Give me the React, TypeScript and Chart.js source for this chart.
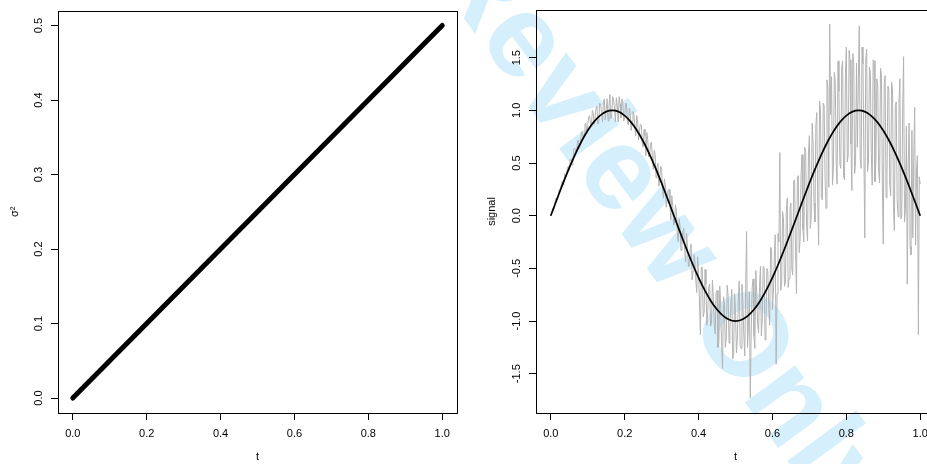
import React, { useEffect, useRef } from 'react';
import { Chart, registerables } from 'chart.js';
Chart.register(...registerables);

// ---- data ----
const T_TICKS = [0, 0.2, 0.4, 0.6, 0.8, 1.0];
const SIGMA_TICKS = [0, 0.1, 0.2, 0.3, 0.4, 0.5];
const SIGNAL_TICKS = [-1.5, -1.0, -0.5, 0, 0.5, 1.0, 1.5];

const SIGMA_T = [0, 0.1, 0.2, 0.3, 0.4, 0.5, 0.6, 0.7, 0.8, 0.9, 1.0];
const SIGMA2 = [0, 0.05, 0.1, 0.15, 0.2, 0.25, 0.3, 0.35, 0.4, 0.45, 0.5];

// true signal, read at t = 0, 1/60, ..., 1
const TRUE_SIGNAL = [
  0, 0.156, 0.309, 0.454, 0.588, 0.707, 0.809, 0.891, 0.951, 0.988,
  1.0, 0.988, 0.951, 0.891, 0.809, 0.707, 0.588, 0.454, 0.309, 0.156,
  0, -0.156, -0.309, -0.454, -0.588, -0.707, -0.809, -0.891, -0.951, -0.988,
  -1.0, -0.988, -0.951, -0.891, -0.809, -0.707, -0.588, -0.454, -0.309, -0.156,
  0, 0.156, 0.309, 0.454, 0.588, 0.707, 0.809, 0.891, 0.951, 0.988,
  1.0, 0.988, 0.951, 0.891, 0.809, 0.707, 0.588, 0.454, 0.309, 0.156,
  0,
];

// noisy observations, read at t = 0, 1/400, ..., 1
const NOISY_SIGNAL = [
  0.00, 0.03, 0.07, 0.05, 0.08, 0.15, 0.17, 0.15, 0.17, 0.25,
  0.24, 0.24, 0.32, 0.33, 0.29, 0.40, 0.39, 0.37, 0.46, 0.47,
  0.43, 0.53, 0.54, 0.48, 0.51, 0.63, 0.64, 0.61, 0.62, 0.71,
  0.72, 0.64, 0.67, 0.79, 0.80, 0.74, 0.77, 0.87, 0.88, 0.78,
  0.85, 0.94, 0.95, 0.88, 0.85, 1.00, 0.97, 0.87, 0.94, 1.02,
  1.04, 0.87, 0.90, 1.07, 1.05, 0.98, 0.89, 1.08, 1.11, 0.91,
  1.01, 1.11, 0.90, 1.04, 1.15, 0.92, 0.97, 1.13, 1.10, 1.02,
  0.89, 1.12, 1.05, 0.89, 1.13, 1.06, 0.93, 1.11, 1.07, 0.90,
  0.93, 1.07, 1.06, 0.89, 0.86, 1.02, 0.99, 0.81, 0.89, 0.99,
  0.96, 0.86, 0.76, 0.95, 0.90, 0.72, 0.80, 0.87, 0.86, 0.69,
  0.65, 0.82, 0.76, 0.57, 0.79, 0.72, 0.56, 0.57, 0.68, 0.70,
  0.55, 0.44, 0.62, 0.58, 0.36, 0.46, 0.50, 0.28, 0.36, 0.47,
  0.44, 0.24, 0.17, 0.35, 0.30, 0.08, 0.15, 0.24, 0.25, 0.12,
  -0.04, 0.19, 0.10, -0.09, -0.07, 0.10, 0.05, -0.17, -0.25, -0.03,
  -0.10, -0.33, -0.23, -0.15, -0.12, -0.33, -0.44, -0.17, -0.29, -0.48,
  -0.48, -0.31, -0.27, -0.61, -0.53, -0.37, -0.42, -0.61, -0.73, -0.39,
  -0.55, -0.81, -1.13, -0.49, -0.49, -0.96, -0.92, -0.51, -0.65, -1.04,
  -0.91, -0.68, -0.65, -1.05, -1.02, -0.61, -0.78, -1.04, -1.12, -0.73,
  -0.71, -1.25, -1.21, -0.67, -0.88, -1.24, -1.45, -0.77, -0.84, -1.25,
  -1.17, -0.66, -0.76, -1.21, -1.07, -0.84, -0.70, -1.36, -1.32, -0.74,
  -0.90, -1.30, -1.18, -0.80, -0.62, -1.23, -1.26, -0.65, -0.83, -1.13,
  -1.33, -0.69, -0.15, -1.25, -1.05, -0.72, -1.73, -1.12, -0.69, -0.60,
  -1.14, -1.26, -0.52, -0.74, -1.04, -1.11, -0.68, -0.48, -1.14, -0.98,
  -0.48, -0.50, -1.18, -1.03, -0.50, -0.53, -0.88, -1.04, -0.30, -0.31,
  -0.89, -0.75, -0.40, -0.18, -1.41, -0.74, -0.17, -0.25, 0.60, -0.71,
  -0.63, 0.04, -0.04, -0.67, -0.64, 0.03, 0.17, -0.68, -0.60, 0.07,
  0.12, -0.51, -0.56, 0.33, 0.34, -0.34, -0.74, 0.36, 0.38, -0.35,
  -0.22, 0.40, 0.58, -0.13, -0.25, 0.65, 0.60, -0.11, -0.24, 0.59,
  0.76, -0.12, 0.00, 0.88, 0.70, 0.12, -0.06, 0.86, 0.98, 0.15,
  -0.28, 1.09, 1.01, 0.18, 0.15, 1.07, 1.04, 0.36, 0.07, 1.29,
  1.21, 0.27, 1.82, 0.96, 1.32, 0.29, 0.45, 1.36, 1.28, 0.49,
  0.30, 1.47, 1.18, 0.49, 0.45, 1.41, 1.47, 0.38, 0.34, 1.34,
  1.60, 0.51, 0.57, 1.57, 1.48, 0.68, 0.24, 1.54, 1.44, 0.40,
  0.50, 1.45, 0.65, 1.30, 1.80, 0.55, 0.45, 1.60, 1.44, 0.59,
  -0.21, 1.48, 1.58, 0.42, 0.52, 1.41, 1.36, 0.60, 0.29, 1.48,
  1.47, 0.32, 0.51, 1.30, 1.23, 0.42, 0.31, 1.40, 1.34, 0.32,
  -0.27, 1.25, 1.33, 0.17, 0.35, 1.23, 1.20, 0.30, 0.19, 1.27,
  1.20, 0.08, -0.14, 1.04, 1.08, 0.16, -0.01, 1.07, 1.30, -0.03,
  0.00, 1.03, 1.51, -0.06, 0.07, 0.85, -0.65, 0.50, 0.88, -0.29,
  -0.37, 0.81, -0.21, 0.56, 1.03, -0.28, 0.44, 0.57, -1.13, 0.37,
  0.30,
];

// ---- helpers ----
const FONT = "'Liberation Sans', Arial, Helvetica, sans-serif";

const boxPlugin = {
  id: 'rbox',
  afterDraw(chart: any) {
    const { ctx, chartArea } = chart;
    const l = Math.round(chartArea.left) + 0.5;
    const t = Math.round(chartArea.top) + 0.5;
    const r = Math.round(chartArea.right) + 0.5;
    const b = Math.round(chartArea.bottom) + 0.5;
    ctx.save();
    ctx.strokeStyle = '#000';
    ctx.lineWidth = 1;
    ctx.strokeRect(l, t, r - l, b - t);
    ctx.restore();
  },
};

const fmt = (v: any) => Number(v).toFixed(1);

function xScale() {
  return {
    type: 'linear',
    min: -0.04,
    max: 1.04,
    afterBuildTicks: (s: any) => {
      s.ticks = T_TICKS.map((v) => ({ value: v }));
    },
    afterFit: (s: any) => {
      s.height = 51;
    },
    grid: { display: true, drawOnChartArea: false, drawTicks: true, tickLength: 7, color: '#000', lineWidth: 1 },
    border: { display: false },
    ticks: { autoSkip: false, maxRotation: 0, minRotation: 0, padding: 7, color: '#000', font: { family: FONT, size: 11 }, callback: fmt },
    title: { display: true, text: 't', color: '#000', font: { family: FONT, size: 11 }, padding: { top: 0, bottom: 0 } },
  };
}

function yScale(min: number, max: number, ticks: number[], width: number, labelPad: number, title: string, titlePad: number) {
  return {
    type: 'linear',
    min,
    max,
    afterBuildTicks: (s: any) => {
      s.ticks = ticks.map((v) => ({ value: v }));
    },
    afterFit: (s: any) => {
      s.width = width;
    },
    grid: { display: true, drawOnChartArea: false, drawTicks: true, tickLength: 7, color: '#000', lineWidth: 1 },
    border: { display: false },
    ticks: {
      autoSkip: false,
      minRotation: 90,
      maxRotation: 90,
      crossAlign: 'center',
      padding: labelPad,
      color: '#000',
      font: { family: FONT, size: 11 },
      callback: fmt,
    },
    title: { display: true, text: title, color: '#000', font: { family: FONT, size: 11 }, padding: { top: titlePad, bottom: 0 } },
  };
}

export default function App() {
  const leftRef = useRef<HTMLCanvasElement>(null);
  const rightRef = useRef<HTMLCanvasElement>(null);

  useEffect(() => {
    const common = {
      responsive: false,
      animation: false,
      devicePixelRatio: 1,
      events: [],
      plugins: { legend: { display: false }, tooltip: { enabled: false } },
    };

    const left = new Chart(leftRef.current as HTMLCanvasElement, {
      type: 'line',
      data: {
        datasets: [
          {
            data: SIGMA_T.map((t, i) => ({ x: t, y: SIGMA2[i] })),
            borderColor: '#000',
            borderWidth: 5,
            borderCapStyle: 'round',
            borderJoinStyle: 'round',
            pointRadius: 0,
            tension: 0,
          },
        ],
      },
      options: {
        ...common,
        layout: { padding: { left: 0, top: 10, right: 13, bottom: 0 } },
        scales: {
          x: xScale(),
          y: yScale(-0.02, 0.52, SIGMA_TICKS, 58, 4, 'σ²', 8),
        },
      } as any,
      plugins: [boxPlugin],
    } as any);

    const nTrue = TRUE_SIGNAL.length - 1;
    const nNoisy = NOISY_SIGNAL.length - 1;
    const right = new Chart(rightRef.current as HTMLCanvasElement, {
      type: 'line',
      data: {
        datasets: [
          {
            data: TRUE_SIGNAL.map((y, i) => ({ x: i / nTrue, y })),
            borderColor: '#000',
            borderWidth: 1.7,
            pointRadius: 0,
            tension: 0.3,
          },
          {
            data: NOISY_SIGNAL.map((y, i) => ({ x: i / nNoisy, y })),
            borderColor: '#b3b3b3',
            borderWidth: 1,
            pointRadius: 0,
            tension: 0,
          },
        ],
      },
      options: {
        ...common,
        layout: { padding: { left: 0, top: 10, right: 15, bottom: 0 } },
        scales: {
          x: xScale(),
          y: yScale(-1.873, 1.953, SIGNAL_TICKS, 66, 3, 'signal', 15),
        },
      } as any,
      plugins: [boxPlugin],
    } as any);

    return () => {
      left.destroy();
      right.destroy();
    };
  }, []);

  return (
    <div
      style={{
        position: 'fixed',
        left: 0,
        top: 0,
        width: 927,
        height: 464,
        overflow: 'hidden',
        background: '#fff',
      }}
    >
      <div
        style={{
          position: 'absolute',
          left: 506.7,
          top: -91.6,
          transform: 'rotate(53.8deg)',
          transformOrigin: '0 0',
          fontFamily: FONT,
          fontWeight: 'bold',
          fontSize: 118,
          lineHeight: 1,
          whiteSpace: 'nowrap',
          color: 'rgb(214,239,252)',
        }}
      >
        Review Only
      </div>
      <canvas
        ref={leftRef}
        width={470}
        height={464}
        style={{ position: 'absolute', left: 0, top: 0, width: 470, height: 464 }}
      />
      <canvas
        ref={rightRef}
        width={480}
        height={464}
        style={{ position: 'absolute', left: 470, top: 0, width: 480, height: 464 }}
      />
    </div>
  );
}
